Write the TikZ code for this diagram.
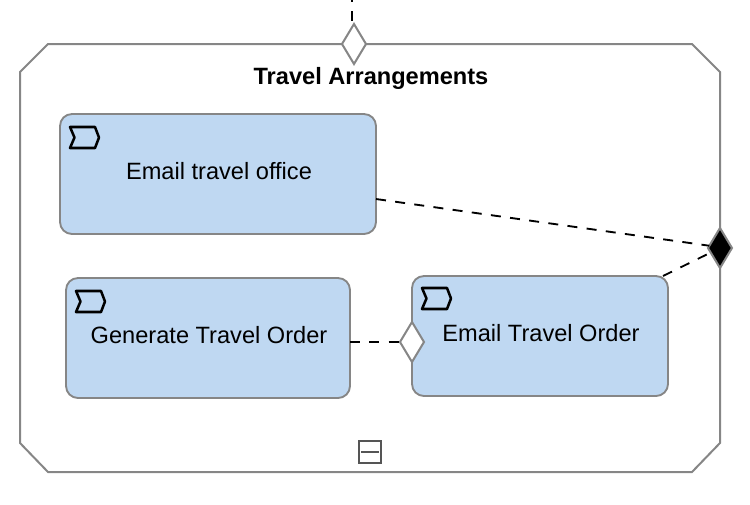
\documentclass[tikz,border=0pt]{standalone}
\usepackage{fontspec}
\setmainfont{Liberation Sans}
\usetikzlibrary{shapes.geometric}
\definecolor{taskblue}{HTML}{BFD8F2}
\definecolor{edgegray}{HTML}{868686}
\definecolor{signgray}{HTML}{555555}
\tikzset{
    subprocess/.style={draw=edgegray, line width=1.5pt},
    taskbox/.style={draw=edgegray, fill=taskblue, line width=1.4pt, rounded corners=9pt, inner sep=0pt, outer sep=0pt, minimum height=90pt},
    tasktext/.style={font=\fontsize{17.7}{20}\selectfont, inner sep=0pt},
    gate/.style={diamond, draw=edgegray, fill=white, line width=1.5pt, inner sep=0pt, outer sep=0pt, minimum width=18pt, minimum height=30pt},
    flow/.style={line width=1.4pt, dash pattern=on 7.5pt off 7pt},
    taskicon/.pic={
        \draw[line width=1.9pt, line join=round] (0,0) -- (25,0) -- (29,10.5) -- (25,21) -- (0,21) -- (4.5,10.5) -- cycle;
    }
}
\begin{document}
\begin{tikzpicture}[x=0.75pt, y=-0.75pt]
    \useasboundingbox (0,0) rectangle (750,504);

    % Draw the subprocess
    \draw[subprocess] (48,44) -- (692,44) -- (720,72) -- (720,443) -- (692,472) -- (48,472) -- (20,443) -- (20,72) -- cycle;
    \node[font=\bfseries\fontsize{17.7}{20}\selectfont, inner sep=0pt] (title) at (371,78) {Travel Arrangements};

    % Collapse sign
    \node[draw=signgray, line width=1.1pt, minimum size=16.5pt, inner sep=0pt, outer sep=0pt] (collapse) at (370,452) {};
    \draw[signgray, line width=1.4pt, shorten >=1.5pt, shorten <=1.5pt] (collapse.west) -- (collapse.east);

    % Draw the tasks
    \foreach \name/\x/\y/\w/\tx/\ty/\txt in {office/218/174/316/219/171/Email travel office, generate/208/338/284/209/335/Generate Travel Order, order/540/336/256/541/333/Email Travel Order} {
        \node[taskbox, minimum width=\w*0.75pt] (\name) at (\x,\y) {};
        \node[tasktext] (\name text) at (\tx,\ty) {\txt};
    }

    % Task markers
    \foreach \x/\y in {70/127, 76/291, 422/288} {
        \pic at (\x,\y) {taskicon};
    }

    % Gateways
    \node[gate] (startgate) at (354,44) {};
    \node[gate] (joingate) at (412,342) {};
    \node[gate, fill=black] (endgate) at (720,248) {};
    \coordinate (entry) at (352,0);

    % Sequence flows
    \draw[flow, dash phase=6pt] (entry) -- (entry |- startgate.north);
    \draw[flow] (generate.east |- joingate.west) -- (joingate.west);
    \draw[flow] (office.-9.2) -- (endgate.168);
    \draw[flow] (order.26.2) -- (endgate.206);
\end{tikzpicture}
\end{document}
